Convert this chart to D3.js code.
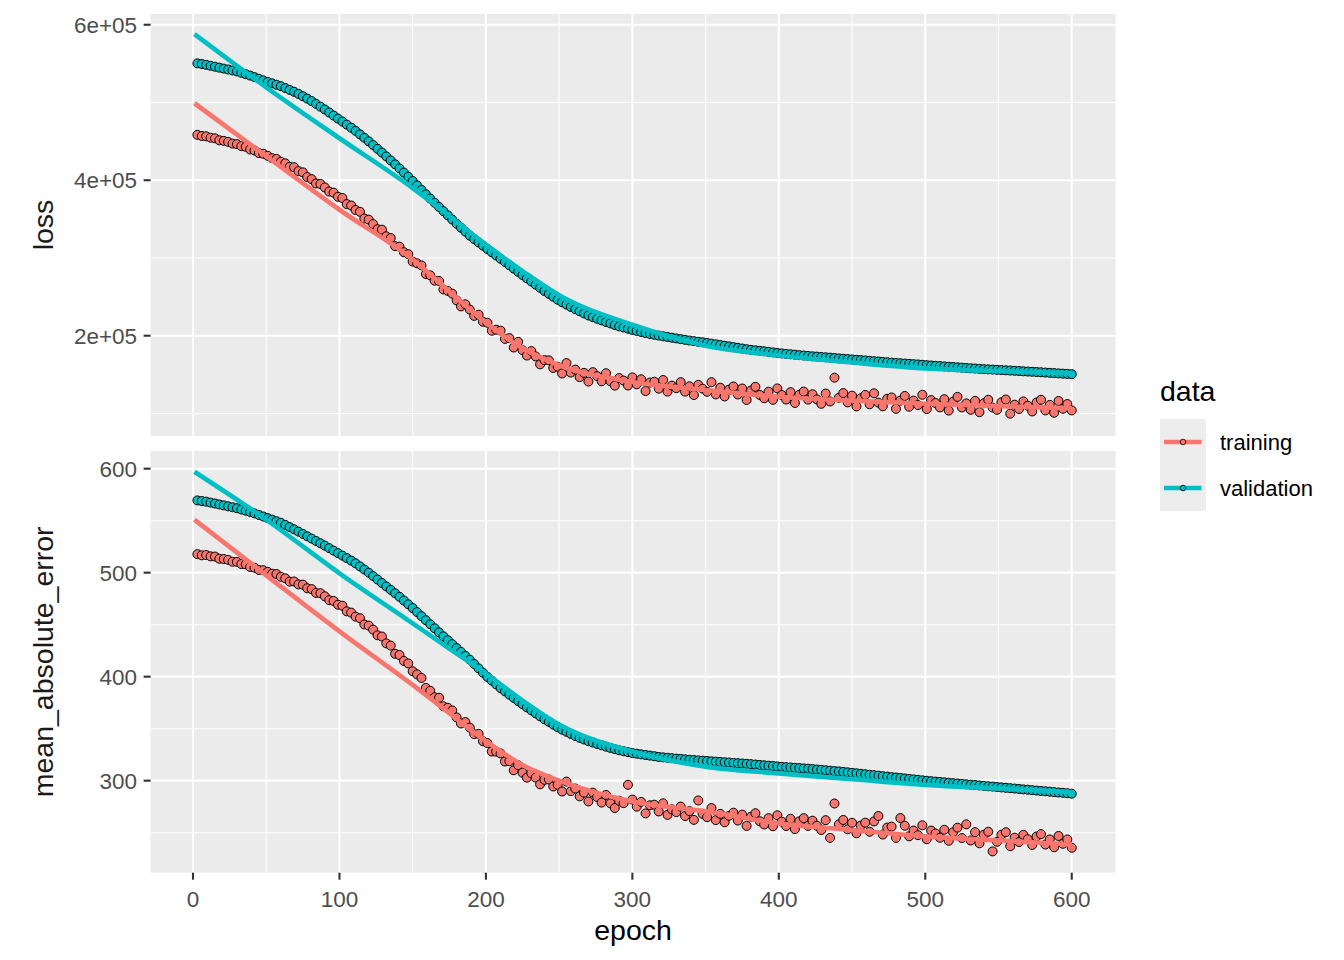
<!DOCTYPE html>
<html lang="en">
<head>
<meta charset="UTF-8">
<title>Training history</title>
<script src="https://d3js.org/d3.v7.min.js"></script>
<style>
  body { margin: 0; background: #fff; }
  text { font-family: "Liberation Sans", Arial, sans-serif; }
</style>
</head>
<body>
<div id="chart"></div>
<script>

// epochs of the plotted points (every third epoch)
const epochs = d3.range(3, 601, 3);

// loss values, in thousands
const lossTraining = [
  458.4, 456.9, 456.5, 454.7, 453.9, 451.4, 450.6, 449.3, 447.1, 446.4,
  443.8, 443.0, 439.6, 438.3, 434.9, 434.0, 431.4, 428.4, 427.4, 423.7,
  421.8, 417.2, 416.8, 411.7, 410.1, 404.1, 401.4, 395.8, 395.2, 390.7,
  385.4, 384.0, 378.7, 377.1, 369.3, 367.5, 361.7, 359.4, 350.8, 349.3,
  343.6, 337.0, 336.4, 327.9, 325.6, 315.2, 314.6, 307.4, 304.9, 295.3,
  293.1, 290.4, 279.3, 277.6, 270.8, 270.4, 259.5, 257.6, 254.1, 245.4,
  237.7, 240.4, 233.6, 225.5, 227.0, 218.0, 216.6, 206.4, 207.7, 206.5,
  195.9, 196.9, 184.8, 192.1, 181.4, 174.5, 180.2, 173.3, 163.2, 168.6,
  168.3, 158.5, 160.1, 151.4, 164.8, 152.6, 156.4, 146.7, 152.2, 141.0,
  153.1, 148.0, 141.4, 151.7, 141.4, 135.8, 145.5, 142.3, 136.0, 146.4,
  137.5, 143.9, 128.8, 139.7, 140.8, 131.9, 143.0, 128.1, 135.8, 132.6,
  140.2, 128.1, 134.9, 123.7, 136.8, 131.9, 127.9, 140.2, 124.5, 133.1,
  121.9, 130.6, 134.7, 124.4, 132.1, 117.4, 129.5, 134.3, 123.8, 119.6,
  128.0, 117.5, 132.2, 123.7, 117.9, 127.4, 113.5, 124.0, 128.1, 117.8,
  124.7, 118.1, 112.4, 125.6, 115.4, 146.0, 120.2, 126.2, 114.2, 122.9,
  109.1, 119.6, 123.8, 111.8, 125.9, 113.9, 109.2, 118.9, 120.6, 106.0,
  116.5, 122.5, 108.7, 116.5, 110.8, 124.0, 105.7, 117.2, 113.4, 107.8,
  118.3, 103.7, 115.2, 121.3, 107.7, 112.9, 104.7, 116.2, 101.7, 113.2,
  117.6, 107.5, 104.7, 114.4, 117.9,  99.7, 111.3, 105.7, 115.5, 109.9,
  102.6, 114.1, 117.6, 103.9, 111.0, 100.9, 116.0, 106.0, 112.1, 103.9
];
const lossValidation = [
  550.3, 549.5, 548.4, 547.2, 546.0, 544.8, 543.6, 542.4, 541.2, 540.0,
  538.2, 536.4, 534.6, 532.6, 530.5, 528.4, 526.4, 524.6, 522.8, 521.0,
  518.6, 516.2, 513.8, 511.0, 508.0, 505.0, 501.8, 498.2, 494.6, 491.0,
  487.1, 483.2, 479.3, 475.4, 471.5, 467.6, 463.5, 459.0, 454.5, 450.0,
  445.2, 440.4, 435.6, 430.6, 425.5, 420.4, 415.2, 409.8, 404.4, 399.0,
  393.3, 387.6, 381.9, 376.4, 371.0, 365.6, 360.2, 354.8, 349.4, 344.0,
  338.9, 333.8, 328.7, 324.2, 320.0, 315.8, 311.6, 307.4, 303.2, 299.0,
  294.8, 290.6, 286.4, 282.2, 278.0, 273.8, 269.7, 265.6, 261.6, 257.5,
  253.8, 250.1, 246.3, 243.0, 240.0, 237.0, 234.1, 231.4, 228.7, 226.0,
  223.9, 221.8, 219.7, 217.7, 215.8, 213.8, 212.0, 210.5, 209.0, 207.5,
  206.2, 204.8, 203.5, 202.3, 201.2, 200.2, 199.2, 198.3, 197.4, 196.5,
  195.6, 194.7, 193.8, 193.0, 192.2, 191.5, 190.7, 189.8, 188.9, 188.0,
  187.1, 186.2, 185.3, 184.4, 183.5, 182.6, 181.8, 181.2, 180.6, 180.0,
  179.2, 178.5, 177.8, 177.2, 176.6, 176.1, 175.6, 175.0, 174.5, 174.0,
  173.5, 173.1, 172.6, 172.2, 171.8, 171.3, 170.8, 170.4, 169.9, 169.5,
  169.0, 168.6, 168.2, 167.7, 167.2, 166.8, 166.3, 165.9, 165.4, 165.0,
  164.6, 164.2, 163.8, 163.4, 163.0, 162.6, 162.1, 161.7, 161.3, 160.9,
  160.5, 160.1, 159.7, 159.3, 158.9, 158.5, 158.1, 157.8, 157.4, 157.0,
  156.7, 156.4, 156.1, 155.8, 155.5, 155.2, 154.9, 154.6, 154.2, 153.9,
  153.6, 153.3, 153.0, 152.6, 152.2, 151.9, 151.5, 151.2, 150.9, 150.5
];

// mean absolute error values
const maeTraining = [
  517.8, 516.7, 517.0, 515.7, 515.5, 513.4, 513.1, 512.3, 510.5, 510.4,
  508.3, 508.0, 505.5, 504.8, 502.6, 502.4, 500.8, 499.0, 498.7, 496.0,
  494.6, 491.4, 491.5, 488.7, 488.5, 485.0, 484.2, 480.5, 480.3, 477.3,
  473.6, 472.8, 469.2, 468.2, 462.8, 461.6, 457.7, 456.2, 450.2, 449.1,
  445.2, 439.8, 438.6, 432.0, 429.9, 422.0, 420.8, 415.1, 412.7, 405.2,
  402.2, 398.8, 389.2, 386.4, 380.2, 379.7, 371.5, 370.1, 367.5, 360.8,
  355.0, 356.3, 351.0, 344.7, 345.0, 337.9, 336.1, 328.0, 327.9, 326.2,
  318.4, 318.7, 310.0, 314.9, 307.6, 302.9, 307.1, 302.9, 296.5, 300.8,
  301.1, 294.4, 296.0, 289.6, 299.1, 289.9, 292.4, 284.9, 288.5, 280.0,
  288.5, 284.3, 278.9, 286.3, 278.2, 273.7, 280.7, 278.4, 296.0, 281.8,
  275.0, 279.6, 268.5, 276.3, 276.9, 270.4, 278.2, 267.1, 272.4, 269.8,
  275.1, 266.0, 270.7, 262.3, 281.0, 268.0, 264.9, 273.6, 262.1, 268.1,
  260.0, 266.2, 269.2, 261.7, 267.3, 256.5, 265.3, 268.7, 261.0, 257.9,
  263.9, 256.2, 266.7, 260.6, 256.4, 263.3, 253.4, 260.9, 263.9, 256.5,
  261.5, 256.7, 252.6, 262.0, 245.0, 278.0, 258.0, 262.2, 253.3, 259.5,
  249.4, 256.8, 259.6, 250.9, 260.8, 266.0, 248.2, 254.9, 255.8, 245.0,
  264.0, 256.7, 246.5, 252.0, 247.6, 257.1, 243.7, 252.0, 249.2, 245.1,
  252.8, 242.2, 250.4, 254.8, 244.8, 258.0, 242.5, 250.5, 239.8, 248.0,
  250.9, 232.0, 241.2, 248.0, 250.4, 237.0, 245.2, 241.0, 247.9, 243.7,
  238.2, 246.3, 248.6, 238.6, 243.5, 236.0, 246.8, 239.3, 243.5, 235.5
];
const maeValidation = [
  569.5, 568.9, 568.3, 567.4, 566.5, 565.6, 564.7, 563.8, 562.9, 562.0,
  560.8, 559.6, 558.4, 557.0, 555.5, 554.0, 552.5, 551.0, 549.5, 548.0,
  545.9, 543.8, 541.7, 539.5, 537.3, 535.0, 532.8, 530.5, 528.3, 526.0,
  523.6, 521.2, 518.8, 516.4, 514.0, 511.6, 509.0, 506.0, 503.0, 500.0,
  496.7, 493.4, 490.1, 486.8, 483.5, 480.2, 476.8, 473.2, 469.6, 466.0,
  462.1, 458.2, 454.3, 450.4, 446.5, 442.6, 438.8, 435.0, 431.3, 427.5,
  423.8, 420.0, 416.3, 412.2, 408.0, 403.8, 399.8, 396.2, 392.6, 389.0,
  385.9, 382.7, 379.6, 376.5, 373.5, 370.5, 367.6, 364.7, 361.9, 359.0,
  356.5, 353.9, 351.4, 349.1, 347.0, 344.9, 342.9, 341.2, 339.6, 338.0,
  336.7, 335.3, 334.0, 332.7, 331.5, 330.3, 329.2, 328.3, 327.4, 326.5,
  325.9, 325.3, 324.7, 324.1, 323.5, 322.8, 322.4, 322.0, 321.6, 321.2,
  320.9, 320.5, 320.1, 319.8, 319.5, 319.2, 318.9, 318.6, 318.3, 318.0,
  317.7, 317.4, 317.1, 316.8, 316.5, 316.2, 315.9, 315.5, 315.1, 314.8,
  314.4, 314.1, 313.7, 313.3, 313.0, 312.7, 312.4, 312.1, 311.8, 311.5,
  311.1, 310.7, 310.4, 310.0, 309.6, 309.2, 308.9, 308.4, 308.0, 307.5,
  307.1, 306.6, 306.2, 305.7, 305.3, 304.8, 304.3, 303.9, 303.4, 303.0,
  302.6, 302.1, 301.7, 301.2, 300.8, 300.3, 299.9, 299.5, 299.1, 298.8,
  298.4, 298.0, 297.6, 297.3, 296.9, 296.5, 296.1, 295.8, 295.4, 295.0,
  294.6, 294.3, 293.9, 293.5, 293.1, 292.8, 292.4, 292.0, 291.6, 291.3,
  290.9, 290.5, 290.1, 289.8, 289.4, 289.0, 288.6, 288.3, 287.9, 287.5
];

// smoothed trend lines
const smoothEpochs = [1, 50, 100, 150, 175, 200, 225, 250, 300, 350, 400, 450, 500, 550, 600];
const lossTrainingSmooth = [499, 431, 362, 298, 257, 217, 184, 162, 140.5, 130.2, 121.5, 116.5, 112.5, 109.5, 106.5];
const lossValidationSmooth = [588, 519.5, 454, 390, 354, 317, 283, 252, 214, 187, 174.5, 165.5, 158, 154.5, 152];
const maeTrainingSmooth = [551, 497.5, 443.5, 392, 365, 338, 315, 300, 280, 270.5, 259, 252.5, 246.5, 242.5, 238.5];
const maeValidationSmooth = [597, 551, 499.4, 451.3, 427, 403, 377, 354, 328, 313.5, 307, 301.5, 296, 292.5, 289];

// axis breaks and labels
const xTicks = [0, 100, 200, 300, 400, 500, 600];
const xMinor = [50, 150, 250, 350, 450, 550];
const lossTicks = [200000, 400000, 600000];
const lossTickLabels = ["2e+05", "4e+05", "6e+05"];
const lossMinor = [100000, 300000, 500000];
const maeTicks = [300, 400, 500, 600];
const maeTickLabels = ["300", "400", "500", "600"];
const maeMinor = [250, 350, 450, 550];

const seriesNames = ["training", "validation"];
const colors = { training: "#F8766D", validation: "#00BFC4" };

const W = 1344, H = 960;
const svg = d3.select("#chart").append("svg")
    .attr("width", W).attr("height", H);

const x = d3.scaleLinear().domain([-28.95, 629.95]).range([150.6, 1115.6]);

const panels = [
  { label: "loss", top: 14, bottom: 436, domain: [71000, 613800],
    ticks: lossTicks, labels: lossTickLabels, minor: lossMinor,
    training: lossTraining.map(v => v * 1000), validation: lossValidation.map(v => v * 1000),
    trainingSmooth: lossTrainingSmooth.map(v => v * 1000), validationSmooth: lossValidationSmooth.map(v => v * 1000) },
  { label: "mean_absolute_error", top: 451, bottom: 872.7, domain: [211.5, 617],
    ticks: maeTicks, labels: maeTickLabels, minor: maeMinor,
    training: maeTraining, validation: maeValidation,
    trainingSmooth: maeTrainingSmooth, validationSmooth: maeValidationSmooth }
];

const [px0, px1] = x.range();

panels.forEach(function(p, i) {
  const y = d3.scaleLinear().domain(p.domain).range([p.bottom, p.top]);
  const g = svg.append("g");

  // panel background
  g.append("rect")
    .attr("x", px0).attr("y", p.top)
    .attr("width", px1 - px0).attr("height", p.bottom - p.top)
    .attr("fill", "#EBEBEB");

  // grid lines
  g.selectAll(".ymin").data(p.minor).enter().append("line")
    .attr("x1", px0).attr("x2", px1)
    .attr("y1", d => y(d)).attr("y2", d => y(d))
    .attr("stroke", "#fff").attr("stroke-width", 1.05);
  g.selectAll(".xmin").data(xMinor).enter().append("line")
    .attr("x1", d => x(d)).attr("x2", d => x(d))
    .attr("y1", p.top).attr("y2", p.bottom)
    .attr("stroke", "#fff").attr("stroke-width", 1.05);
  g.selectAll(".ymaj").data(p.ticks).enter().append("line")
    .attr("x1", px0).attr("x2", px1)
    .attr("y1", d => y(d)).attr("y2", d => y(d))
    .attr("stroke", "#fff").attr("stroke-width", 2.1);
  g.selectAll(".xmaj").data(xTicks).enter().append("line")
    .attr("x1", d => x(d)).attr("x2", d => x(d))
    .attr("y1", p.top).attr("y2", p.bottom)
    .attr("stroke", "#fff").attr("stroke-width", 2.1);

  // y axis ticks and labels
  g.selectAll(".yt").data(p.ticks).enter().append("line")
    .attr("x1", px0 - 7).attr("x2", px0)
    .attr("y1", d => y(d)).attr("y2", d => y(d))
    .attr("stroke", "#333333").attr("stroke-width", 2.1);
  g.selectAll(".yl").data(p.ticks).enter().append("text")
    .attr("x", px0 - 13.5).attr("y", d => y(d)).attr("dy", "0.36em")
    .attr("text-anchor", "end").attr("font-size", 22.5).attr("fill", "#4D4D4D")
    .text((d, j) => p.labels[j]);

  // facet label on the left
  g.append("text")
    .attr("transform", `translate(52.5,${(p.top + p.bottom) / 2}) rotate(-90)`)
    .attr("text-anchor", "middle").attr("font-size", 28.5).attr("fill", "#1A1A1A")
    .text(p.label);

  // points
  seriesNames.forEach(function(s) {
    g.append("g").selectAll("circle").data(epochs).enter().append("circle")
      .attr("cx", d => x(d))
      .attr("cy", (d, j) => y(p[s][j]))
      .attr("r", 4.5)
      .attr("fill", colors[s])
      .attr("stroke", "#000").attr("stroke-width", 1);
  });

  // smooth lines
  seriesNames.forEach(function(s) {
    const vals = p[s + "Smooth"];
    g.append("path")
      .datum(smoothEpochs.map((e, j) => [e, vals[j]]))
      .attr("fill", "none")
      .attr("stroke", colors[s]).attr("stroke-width", 4.7)
      .attr("d", d3.line().curve(d3.curveMonotoneX)
        .x(d => x(d[0])).y(d => y(d[1])));
  });

  // x axis only on the bottom panel
  if (i === panels.length - 1) {
    g.selectAll(".xt").data(xTicks).enter().append("line")
      .attr("x1", d => x(d)).attr("x2", d => x(d))
      .attr("y1", p.bottom).attr("y2", p.bottom + 7)
      .attr("stroke", "#333333").attr("stroke-width", 2.1);
    g.selectAll(".xl").data(xTicks).enter().append("text")
      .attr("x", d => x(d)).attr("y", p.bottom + 33.8)
      .attr("text-anchor", "middle").attr("font-size", 22.5).attr("fill", "#4D4D4D")
      .text(d => d);
  }
});

// x axis title
svg.append("text")
  .attr("x", (px0 + px1) / 2).attr("y", 940)
  .attr("text-anchor", "middle").attr("font-size", 28.5).attr("fill", "#000")
  .text("epoch");

// legend
const legend = svg.append("g").attr("transform", "translate(1160,0)");
legend.append("text")
  .attr("x", 0).attr("y", 401)
  .attr("font-size", 28.5).attr("fill", "#000")
  .text("data");
seriesNames.forEach(function(s, i) {
  const ky = 419 + i * 46;
  legend.append("rect")
    .attr("x", 0).attr("y", ky).attr("width", 46).attr("height", 46)
    .attr("fill", "#EDEDED");
  legend.append("line")
    .attr("x1", 4).attr("x2", 41.5).attr("y1", ky + 23).attr("y2", ky + 23)
    .attr("stroke", colors[s]).attr("stroke-width", 4.7);
  legend.append("circle")
    .attr("cx", 23).attr("cy", ky + 23).attr("r", 2.8)
    .attr("fill", colors[s]).attr("stroke", "#000").attr("stroke-width", 0.8);
  legend.append("text")
    .attr("x", 60).attr("y", ky + 23).attr("dy", "0.36em")
    .attr("font-size", 22).attr("fill", "#000")
    .text(s);
});

</script>
</body>
</html>
